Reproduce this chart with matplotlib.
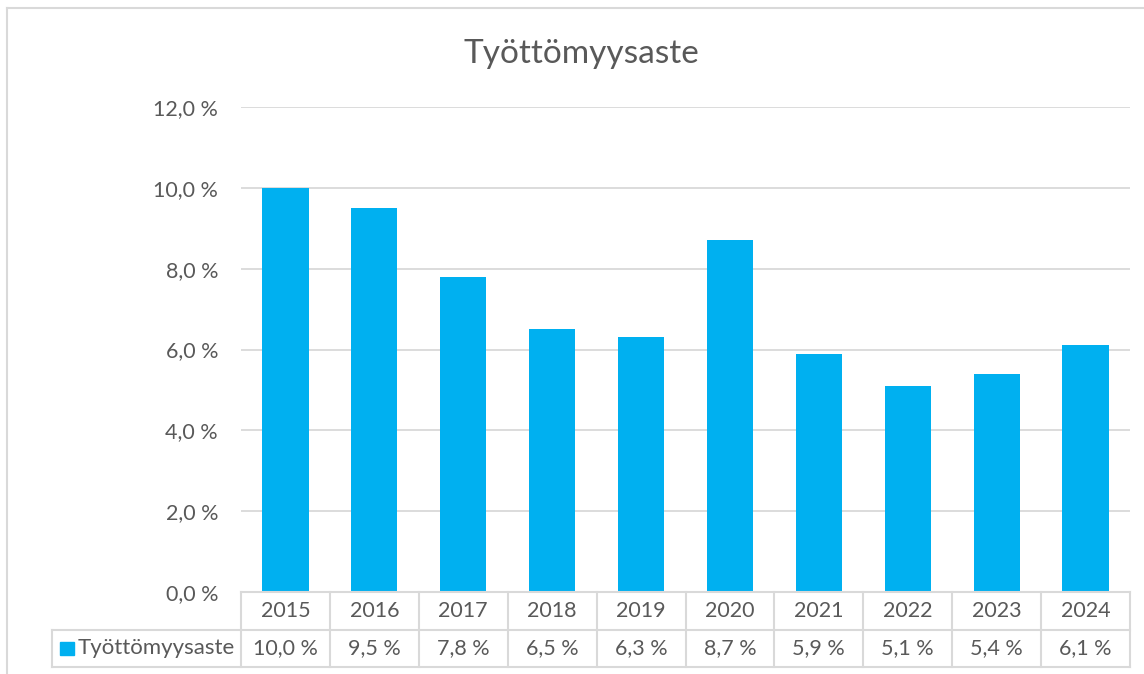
import matplotlib
matplotlib.use("Agg")
import matplotlib.pyplot as plt
from matplotlib.lines import Line2D
from matplotlib.patches import Rectangle
from matplotlib.ticker import FuncFormatter, MultipleLocator

years = ["2015", "2016", "2017", "2018", "2019", "2020", "2021", "2022", "2023", "2024"]
values = [10.0, 9.5, 7.8, 6.5, 6.3, 8.7, 5.9, 5.1, 5.4, 6.1]
series_name = "Työttömyysaste"
title = "Työttömyysaste"

plt.rcParams['font.family'] = ['Lato', 'DejaVu Sans']
TXT = "#595959"
GRID = "#d9d9d9"
BAR = "#00B0F0"
FS = 15.5

W, H = 1144, 674
fig = plt.figure(figsize=(W / 100, H / 100), dpi=100)

def fx(px):
    return px / W

def fy(py):
    return 1 - py / H

left_px, right_px, top_px, bot_px = 241, 1130, 107, 592
ax = fig.add_axes([fx(left_px), fy(bot_px), fx(right_px) - fx(left_px), fy(top_px) - fy(bot_px)])
n = len(years)
x = list(range(n))
ax.bar(x, values, width=0.52, color=BAR, zorder=3)
ax.set_xlim(-0.5, n - 0.5)
ax.set_ylim(0, 12)
ax.yaxis.set_major_locator(MultipleLocator(2))
ax.yaxis.set_major_formatter(FuncFormatter(lambda v, p: f"{v:.1f}".replace(".", ",") + " %"))
ax.grid(axis="y", color=GRID, linewidth=1.3, zorder=0)
ax.set_xticks([])
for s in ax.spines.values():
    s.set_visible(False)
ax.tick_params(axis="y", length=0, pad=16.5, labelsize=FS, labelcolor=TXT)

# outer chart border (left and top visible)
fig.add_artist(Line2D([fx(6.5), fx(6.5)], [fy(8), 0], color=GRID, lw=1.5))
fig.add_artist(Line2D([fx(6.5), 1], [fy(8), fy(8)], color=GRID, lw=1.5))

# data table
colw = (right_px - left_px) / n
r0, r1, r2 = 592, 630, 667
lx = 52
lc = GRID
lw = 1.5
fig.add_artist(Line2D([fx(left_px), fx(right_px)], [fy(r0), fy(r0)], color=lc, lw=lw))
for yy in (r1, r2):
    fig.add_artist(Line2D([fx(lx), fx(right_px)], [fy(yy), fy(yy)], color=lc, lw=lw))
for k in range(n + 1):
    xx = left_px + k * colw
    fig.add_artist(Line2D([fx(xx), fx(xx)], [fy(r0), fy(r2)], color=lc, lw=lw))
fig.add_artist(Line2D([fx(lx), fx(lx)], [fy(r1), fy(r2)], color=lc, lw=lw))

for k in range(n):
    cx = left_px + (k + 0.5) * colw
    fig.text(fx(cx), fy((r0 + r1) / 2), years[k], ha="center", va="center", fontsize=FS, color=TXT)
    lab = f"{values[k]:.1f}".replace(".", ",") + " %"
    fig.text(fx(cx), fy((r1 + r2) / 2), lab, ha="center", va="center", fontsize=FS, color=TXT)

# legend key in table
fig.add_artist(Rectangle((fx(60), fy(655)), fx(14), fy(642) - fy(655), color=BAR, transform=fig.transFigure))
fig.text(fx(78), fy((r1 + r2) / 2), series_name, ha="left", va="center", fontsize=16, color=TXT)

fig.text(fx(581), fy(54), title, ha="center", va="center", fontsize=24, color=TXT)

fig.savefig("out.png", dpi=100)
